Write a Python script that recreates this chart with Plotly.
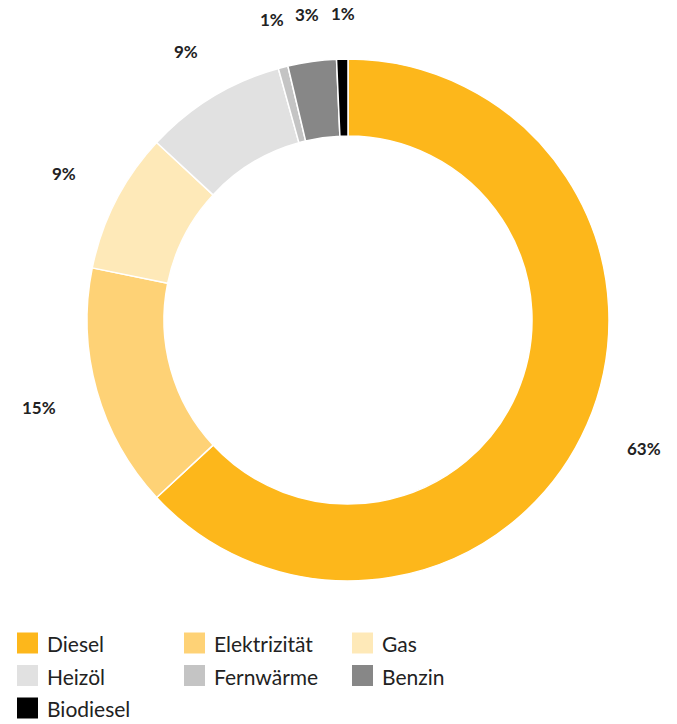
import math
import plotly.graph_objects as go

# Energy sources and their share in percent
labels = ["Diesel", "Elektrizität", "Gas", "Heizöl", "Fernwärme", "Benzin", "Biodiesel"]
values = [63.1, 15.1, 8.7, 8.8, 0.6, 3.0, 0.7]
colors = ["#FDB71B", "#FED276", "#FEE9B8", "#E1E1E1", "#C4C4C4", "#878787", "#000000"]

W, H = 677, 724
FONT = "Source Sans Pro, Lato, Noto Sans, sans-serif"

# ring geometry in pixels
cx, cy, R = 348, 320, 261
hole = 0.705

fig = go.Figure()
fig.add_trace(go.Pie(
    labels=labels,
    values=values,
    sort=False,
    direction="clockwise",
    rotation=0,
    hole=hole,
    marker=dict(colors=colors, line=dict(color="#FFFFFF", width=1.5)),
    textinfo="none",
    hoverinfo="label+percent",
    showlegend=False,
    domain=dict(x=[(cx - R) / W, (cx + R) / W], y=[1 - (cy + R) / H, 1 - (cy - R) / H]),
))

# percentage labels placed outside the ring at each slice's mid-angle;
# labels towards the sides sit a little further out
total = sum(values)
annotations = []
cum = 0.0
for lab, v in zip(labels, values):
    mid = (cum + v / 2) / total * 2 * math.pi
    cum += v
    r = R + 45 + 17 * abs(math.sin(mid))
    px = cx + 1.5 + r * math.sin(mid)
    py = cy - r * math.cos(mid)
    annotations.append(dict(
        x=px / W, y=1 - py / H, xref="paper", yref="paper",
        text=f"<b>{v:.0f}%</b>", showarrow=False,
        xanchor="center", yanchor="middle",
        font=dict(family=FONT, size=17, color="#222222"),
    ))

# legend: three columns of colour squares with names
shapes = []
col_x = [17, 184, 352]
row_y = [643, 675.5, 708]
sq = 21
for i, (lab, c) in enumerate(zip(labels, colors)):
    x0 = col_x[i % 3]
    yc = row_y[i // 3]
    shapes.append(dict(
        type="rect", xref="paper", yref="paper",
        x0=x0 / W, x1=(x0 + sq) / W,
        y0=1 - (yc + sq / 2) / H, y1=1 - (yc - sq / 2) / H,
        fillcolor=c, line=dict(width=0),
    ))
    annotations.append(dict(
        x=(x0 + sq + 7) / W, y=1 - (yc + 0.5) / H, xref="paper", yref="paper",
        text=lab, showarrow=False, xanchor="left", yanchor="middle",
        font=dict(family=FONT, size=21, color="#222222"),
    ))

fig.update_layout(
    width=W, height=H,
    margin=dict(l=0, r=0, t=0, b=0),
    paper_bgcolor="#FFFFFF",
    plot_bgcolor="#FFFFFF",
    annotations=annotations,
    shapes=shapes,
)

fig.write_html("out.html")
